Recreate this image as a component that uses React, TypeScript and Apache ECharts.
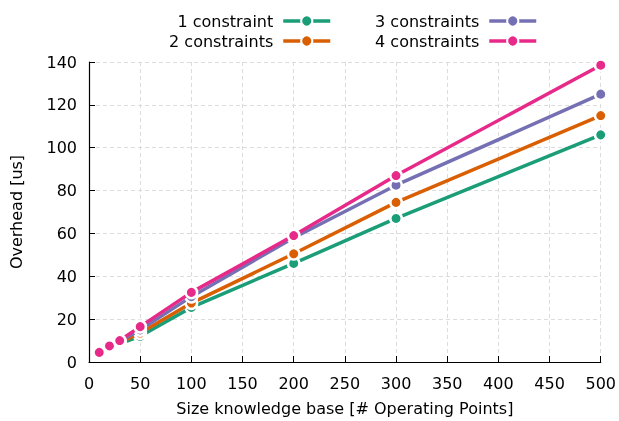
import React, { useEffect, useRef } from "react";
import * as echarts from "echarts";

const xValues = [10, 20, 30, 50, 100, 200, 300, 500];
const seriesNames = ["1 constraint", "2 constraints", "3 constraints", "4 constraints"];
const oneConstraint = [4.0, 6.6, 8.6, 12.0, 25.5, 46.0, 67.0, 106.0];
const twoConstraints = [4.2, 7.0, 9.2, 13.5, 27.5, 50.5, 74.5, 115.0];
const threeConstraints = [4.4, 7.3, 9.7, 15.0, 30.5, 58.0, 82.5, 125.0];
const fourConstraints = [4.5, 7.5, 10.0, 16.5, 32.5, 59.0, 87.0, 138.5];
const colors = ["#1b9e77", "#d95f02", "#7570b3", "#e7298a"];
const xTicks = { min: 0, max: 500, interval: 50 };
const yTicks = { min: 0, max: 140, interval: 20 };

const FONT = "DejaVu Sans";
const FS = 16;

export default function App() {
  const ref = useRef<HTMLDivElement>(null);
  useEffect(() => {
    if (!ref.current) return;
    const chart = echarts.init(ref.current, null, { renderer: "svg" });
    const all = [oneConstraint, twoConstraints, threeConstraints, fourConstraints];
    const series = all.map((vals, i) => ({
      name: seriesNames[i],
      type: "line",
      data: xValues.map((x, j) => [x, vals[j]]),
      symbol: "circle",
      symbolSize: 11.5,
      showSymbol: true,
      lineStyle: { width: 3.5, color: colors[i] },
      itemStyle: { color: colors[i], borderColor: "#fff", borderWidth: 2.5 },
      z: 2 + i,
    }));
    const legendPos = [
      { right: 287, top: 13 },
      { right: 287, top: 33 },
      { right: 81, top: 13 },
      { right: 81, top: 33 },
    ];
    const legends = seriesNames.map((n, i) => ({
      data: [n],
      right: legendPos[i].right,
      top: legendPos[i].top,
      align: "right",
      itemWidth: 47,
      itemHeight: 14,
      itemGap: 0,
      lineStyle: { width: 3.5 },
      textStyle: { fontFamily: FONT, fontSize: FS, color: "#000", padding: [0, 5, 0, 0] },
      padding: 0,
    }));
    chart.setOption({
      animation: false,
      color: colors,
      legend: legends,
      grid: { left: 89, right: 18, top: 62, bottom: 48 },
      xAxis: {
        type: "value",
        min: xTicks.min,
        max: xTicks.max,
        interval: xTicks.interval,
        name: "Size knowledge base [# Operating Points]",
        nameLocation: "middle",
        nameGap: 38,
        nameTextStyle: { fontFamily: FONT, fontSize: FS, color: "#000" },
        axisLine: { show: true, lineStyle: { color: "#000", width: 1.2 } },
        axisTick: { show: true, inside: true, length: 6, lineStyle: { color: "#000" } },
        axisLabel: { fontFamily: FONT, fontSize: FS, color: "#000", margin: 13 },
        splitLine: { show: true, lineStyle: { color: "#dcdcdc", type: [4, 3], width: 1 } },
      },
      yAxis: {
        type: "value",
        min: yTicks.min,
        max: yTicks.max,
        interval: yTicks.interval,
        name: "Overhead [us]",
        nameLocation: "middle",
        nameGap: 65,
        nameTextStyle: { fontFamily: FONT, fontSize: FS, color: "#000" },
        axisLine: { show: true, lineStyle: { color: "#000", width: 1.2 } },
        axisTick: { show: true, inside: true, length: 6, lineStyle: { color: "#000" } },
        axisLabel: { fontFamily: FONT, fontSize: FS, color: "#000", margin: 12 },
        splitLine: { show: true, lineStyle: { color: "#dcdcdc", type: [4, 3], width: 1 } },
      },
      series,
    });
    return () => chart.dispose();
  }, []);
  return (
    <div
      ref={ref}
      style={{ position: "fixed", left: 0, top: 0, width: 619, height: 421 }}
    />
  );
}
